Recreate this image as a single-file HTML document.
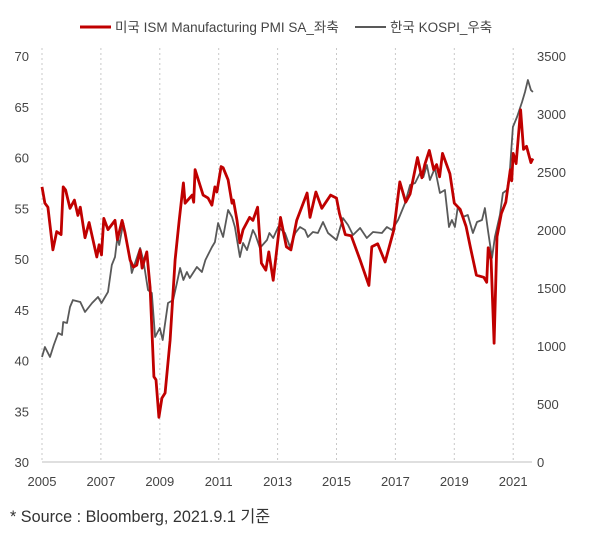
<!DOCTYPE html>
<html><head><meta charset="utf-8">
<style>
body{margin:0;background:#fff;}
svg text{font-family:"Liberation Sans","Noto Sans CJK KR",sans-serif;}
</style></head>
<body>
<svg id="chart" width="600" height="536" viewBox="0 0 600 536" xmlns="http://www.w3.org/2000/svg">
<rect width="600" height="536" fill="#fff"/>
<g id="grid"></g>
<g id="axes"></g>
<g id="series"></g>
<g>
 <line x1="80" y1="27" x2="111" y2="27" stroke="#c00000" stroke-width="3"/>
 <text x="115" y="32" font-size="13.5" fill="#444">미국 ISM Manufacturing PMI SA_좌축</text>
 <line x1="355" y1="27" x2="386" y2="27" stroke="#595959" stroke-width="2"/>
 <text x="390" y="32" font-size="13.5" fill="#444">한국 KOSPI_우축</text>
</g>
<text x="10" y="522" font-size="16.2" fill="#333">* Source : Bloomberg, 2021.9.1 기준</text>
</svg>
<script>
const xTickLabels=["2005","2007","2009","2011","2013","2015","2017","2019","2021"];
const leftTicks=[30,35,40,45,50,55,60,65,70];
const rightTicks=[0,500,1000,1500,2000,2500,3000,3500];
const pmiDates=[2005.0,2005.1,2005.2,2005.37,2005.5,2005.65,2005.72,2005.8,2005.95,2006.1,2006.22,2006.3,2006.46,2006.6,2006.86,2006.94,2007.02,2007.1,2007.24,2007.48,2007.56,2007.72,2007.82,2007.99,2008.1,2008.22,2008.33,2008.4,2008.56,2008.67,2008.8,2008.87,2008.97,2009.07,2009.18,2009.35,2009.52,2009.66,2009.8,2009.86,2010.1,2010.15,2010.2,2010.47,2010.64,2010.77,2010.87,2010.94,2011.08,2011.15,2011.32,2011.45,2011.5,2011.62,2011.72,2011.83,2012.05,2012.16,2012.32,2012.45,2012.6,2012.7,2012.85,2013.1,2013.3,2013.45,2013.65,2014.0,2014.1,2014.3,2014.5,2014.8,2015.0,2015.1,2015.3,2015.5,2015.8,2016.1,2016.2,2016.4,2016.65,2016.95,2017.15,2017.35,2017.5,2017.75,2017.9,2018.0,2018.15,2018.3,2018.4,2018.5,2018.6,2018.85,2019.0,2019.2,2019.4,2019.55,2019.75,2020.0,2020.1,2020.15,2020.25,2020.35,2020.45,2020.6,2020.75,2020.9,2020.95,2021.0,2021.1,2021.25,2021.35,2021.45,2021.6,2021.67];
const pmiValues=[57.1,55.5,55.1,50.9,52.7,52.4,57.1,56.8,55.0,55.8,54.3,55.1,52.1,53.6,50.2,51.4,50.4,54.0,52.9,53.8,51.9,53.8,52.6,49.9,49.2,49.4,50.9,49.1,50.7,47.2,38.4,38.1,34.4,36.3,36.8,42.0,49.9,53.8,57.5,55.5,56.3,55.6,58.8,56.3,56.0,55.3,57.1,56.6,59.1,59.0,57.8,55.5,55.8,53.8,51.6,52.9,54.1,53.8,55.1,49.6,48.9,50.7,47.9,54.1,51.2,50.9,53.8,56.5,54.1,56.6,55.0,56.3,56.0,54.5,52.4,52.3,49.9,47.4,51.2,51.5,49.7,52.9,57.6,55.6,56.4,60.0,58.0,59.3,60.7,58.8,59.3,58.1,60.4,58.4,55.5,54.9,53.2,51.1,48.4,48.2,47.7,51.1,49.9,41.7,52.2,54.5,55.6,58.8,57.7,60.4,59.4,64.7,60.8,61.1,59.5,59.9];
const kospiDates=[2005.0,2005.1,2005.27,2005.4,2005.55,2005.68,2005.72,2005.85,2005.95,2006.05,2006.3,2006.46,2006.7,2006.9,2007.02,2007.24,2007.37,2007.48,2007.56,2007.62,2007.76,2007.88,2007.99,2008.05,2008.16,2008.33,2008.44,2008.6,2008.73,2008.84,2009.0,2009.1,2009.28,2009.45,2009.58,2009.69,2009.8,2009.92,2010.02,2010.26,2010.43,2010.55,2010.77,2010.87,2010.98,2011.15,2011.32,2011.45,2011.55,2011.72,2011.83,2011.96,2012.16,2012.25,2012.4,2012.64,2012.72,2012.85,2013.02,2013.25,2013.42,2013.6,2013.76,2013.93,2014.03,2014.2,2014.37,2014.54,2014.71,2015.0,2015.22,2015.39,2015.56,2015.8,2016.03,2016.24,2016.54,2016.71,2016.88,2017.09,2017.33,2017.5,2017.67,2017.84,2017.95,2018.07,2018.17,2018.34,2018.51,2018.68,2018.82,2018.92,2019.02,2019.12,2019.29,2019.46,2019.63,2019.77,2019.94,2020.04,2020.14,2020.28,2020.38,2020.55,2020.65,2020.79,2020.88,2020.99,2021.13,2021.3,2021.4,2021.5,2021.6,2021.67];
const kospiValues=[905,991,905,1009,1112,1095,1207,1198,1336,1396,1379,1293,1371,1422,1371,1466,1698,1767,1940,1871,2060,1888,1741,1629,1716,1845,1741,1483,1457,1078,1155,1052,1371,1396,1543,1672,1569,1638,1586,1681,1638,1741,1853,1896,2060,1940,2172,2112,2026,1767,1888,1827,2000,1957,1845,1914,1974,1931,2026,1974,1853,1974,2026,2000,1940,1983,1974,2069,1974,1914,2103,2043,1957,2017,1931,1983,1974,2026,2000,2086,2233,2388,2405,2491,2457,2560,2431,2534,2319,2345,2026,2086,2026,2198,2112,2129,1974,2069,2086,2189,2000,1759,1940,2129,2319,2345,2491,2888,2974,3103,3190,3293,3207,3190];

const NS="http://www.w3.org/2000/svg";
const X0=42,PX_PER_YEAR=29.45,YTOP=56,YBOT=462;
function xs(t){return X0+(t-2005)*PX_PER_YEAR;}
function yl(v){return YBOT-(v-30)/40*(YBOT-YTOP);}
function yr(v){return YBOT-v/3500*(YBOT-YTOP);}
function mk(tag,attrs,parent){const e=document.createElementNS(NS,tag);for(const k in attrs)e.setAttribute(k,attrs[k]);parent.appendChild(e);return e;}
const grid=document.getElementById('grid'),axes=document.getElementById('axes'),series=document.getElementById('series');
xTickLabels.forEach(l=>{
  const x=xs(+l);
  const g=mk('line',{x1:x,y1:YTOP-8,x2:x,y2:YBOT,stroke:'#c8c8c8','stroke-dasharray':'2,3','stroke-width':1},grid);
  
  
  const t=mk('text',{x:x,y:486,'font-size':13,fill:'#444','text-anchor':'middle'},axes);
  t.textContent=l;
  
  
});
const ax=mk('line',{x1:X0,y1:YBOT,x2:532,y2:YBOT,stroke:'#bfbfbf','stroke-width':1},axes);


leftTicks.forEach(v=>{
  const t=mk('text',{x:29,y:yl(v)+5,'font-size':13,fill:'#444','text-anchor':'end'},axes);
  t.textContent=v;
  
  
});
rightTicks.forEach(v=>{
  const t=mk('text',{x:537,y:yr(v)+5,'font-size':13,fill:'#444','text-anchor':'start'},axes);
  t.textContent=v;
  
  
});
const kp=mk('polyline',{points:kospiDates.map((d,i)=>xs(d).toFixed(1)+','+yr(kospiValues[i]).toFixed(1)).join(' '),fill:'none',stroke:'#595959','stroke-width':1.8,'stroke-linejoin':'round'},series);


const pp=mk('polyline',{points:pmiDates.map((d,i)=>xs(d).toFixed(1)+','+yl(pmiValues[i]).toFixed(1)).join(' '),fill:'none',stroke:'#c00000','stroke-width':2.8,'stroke-linejoin':'round'},series);


</script>
</body></html>
